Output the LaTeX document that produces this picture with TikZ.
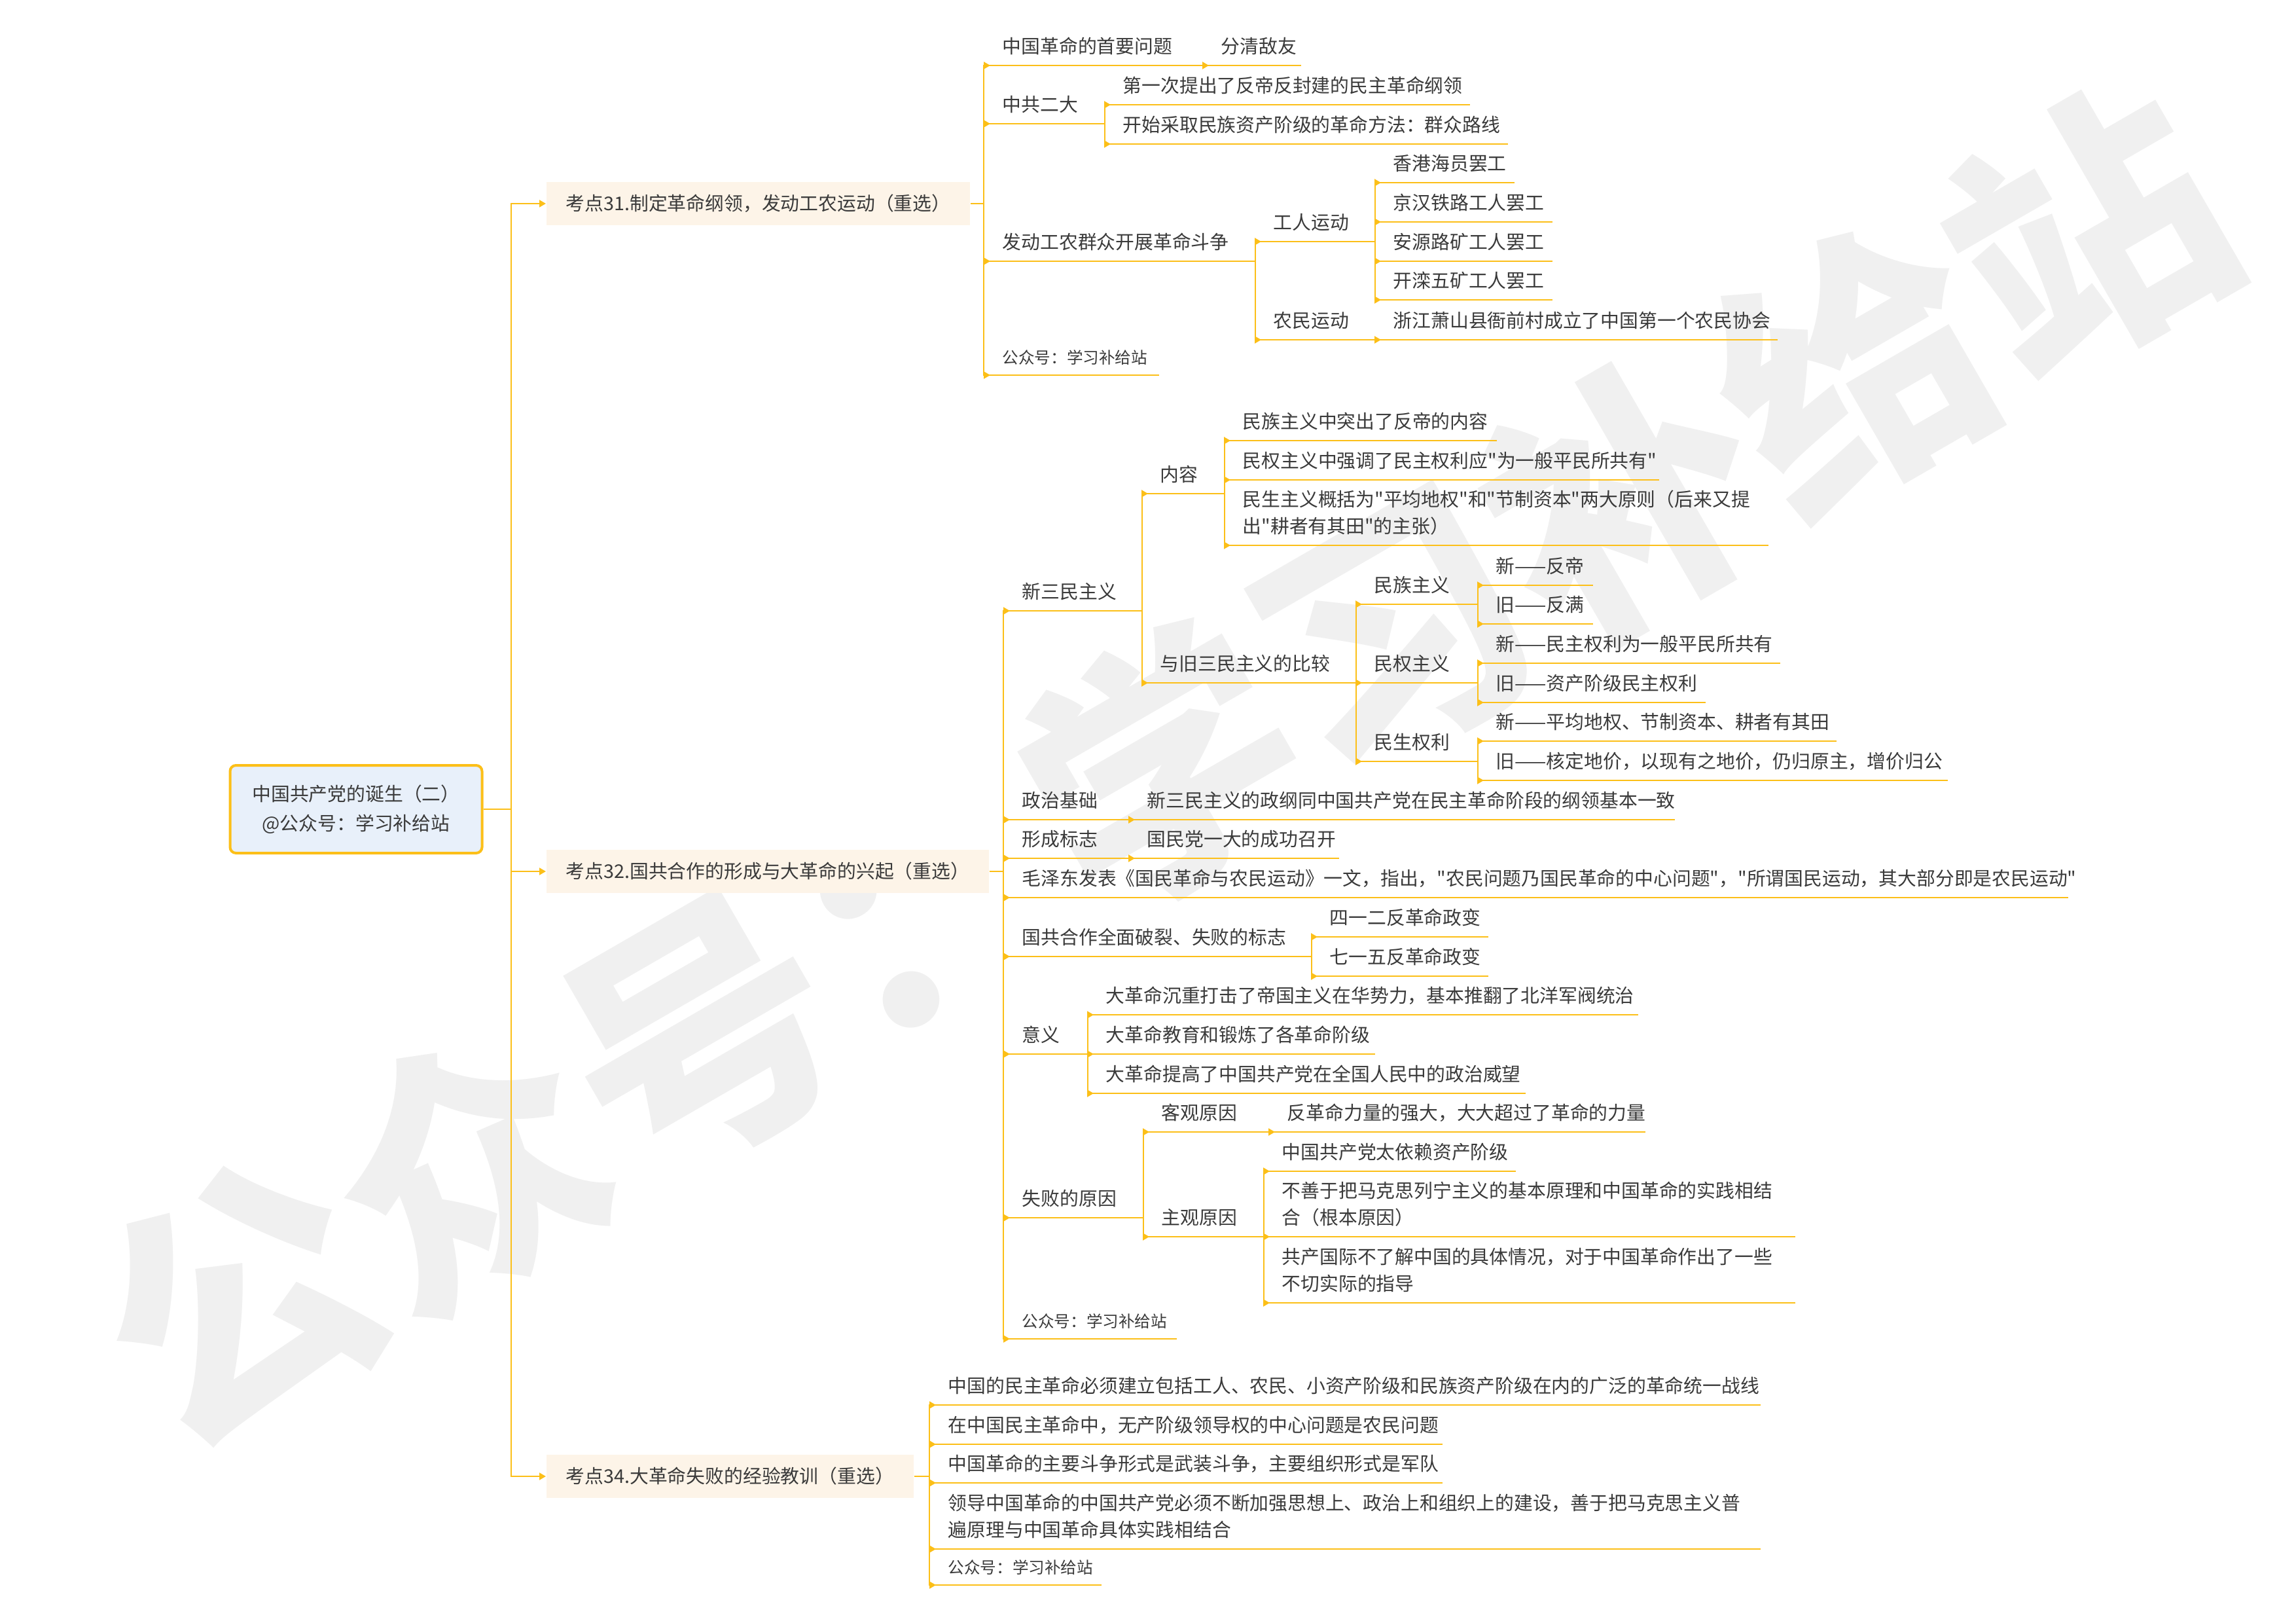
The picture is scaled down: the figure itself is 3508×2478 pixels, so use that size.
\documentclass[tikz,border=0pt]{standalone}
\usepackage{fontspec}
\setmainfont{Noto Sans CJK SC}[Ligatures=TeXOff]
\usepackage{tikz}
\usetikzlibrary{arrows.meta}
\definecolor{mmgold}{RGB}{252,191,24}
\definecolor{mmtext}{HTML}{3A3A3A}
\definecolor{mmpeach}{HTML}{FDF4E8}
\definecolor{mmblue}{HTML}{E8F0FA}
\definecolor{mmmark}{HTML}{F0F0F0}
\newcommand{\mmfont}{\fontsize{8.2pt}{11.5pt}\selectfont}
\newcommand{\mmsmall}{\fontsize{7pt}{9.8pt}\selectfont}
\tikzset{
  mm-line/.style={draw=mmgold, line width=0.22mm},
  mm-link/.style={draw=mmgold, line width=0.2mm, -{Triangle[length=1mm, width=1.1mm]}},
  mm-item/.style={anchor=south west, inner xsep=0pt, inner ysep=0.6mm, text width=#1,
    align=left, text=mmtext, font=\mmfont,
    execute at begin node={\leftskip=2.8mm\relax}, execute at end node={\strut}},
  mm-note/.style={mm-item=#1, font=\mmsmall},
  mm-topic/.style={anchor=west, fill=mmpeach, text=mmtext, font=\mmfont, inner xsep=3mm,
    minimum height=6.6mm, text height=2.5mm, text depth=0.4mm},
  mm-root/.style={draw=mmgold, line width=0.4mm, fill=mmblue, rounded corners=0.9mm,
    align=center, text=mmtext, font=\mmfont, minimum width=38.5mm, minimum height=13.4mm},
  mm-mark/.style={text=mmmark, font=\fontsize{116pt}{116pt}\selectfont\bfseries}
}

\begin{document}
\begin{tikzpicture}[x=0.1mm, y=-0.1mm]
  \path[use as bounding box] (0,0) rectangle (3508,2478);

  % Watermark
  \node[mm-mark, rotate=30] (mark) at (1775,1170) {公众号：学习补给站};

  % Root and the three topics
  \node[mm-root] (root) at (544,1236) {中国共产党的诞生（二）\\[0.5mm]@公众号：学习补给站};
  \node[mm-topic] (kd31) at (834,311) {考点31.制定革命纲领，发动工农运动（重选）};
  \node[mm-topic] (kd32) at (834,1331) {考点32.国共合作的形成与大革命的兴起（重选）};
  \node[mm-topic] (kd34) at (834,2255) {考点34.大革命失败的经验教训（重选）};
  \coordinate (hub) at (781,1236);

  % Topic 31
  \node[mm-item=33.4mm] (shouyao) at (1503,100) {中国革命的首要问题};
  \node[mm-item=15mm] (diyou) at (1837,100) {分清敌友};
  \node[mm-item=18.4mm] (erda) at (1503,189) {中共二大};
  \node[mm-item=55.8mm] (gangling) at (1687,160) {第一次提出了反帝反封建的民主革命纲领};
  \node[mm-item=61.6mm] (luxian) at (1687,220) {开始采取民族资产阶级的革命方法：群众路线};
  \node[mm-item=41.4mm] (douzheng) at (1503,399) {发动工农群众开展革命斗争};
  \node[mm-item=18.3mm] (gongren) at (1917,369) {工人运动};
  \node[mm-item=21.3mm] (haiyuan) at (2100,279) {香港海员罢工};
  \node[mm-item=27.1mm] (jinghan) at (2100,339) {京汉铁路工人罢工};
  \node[mm-item=27.1mm] (anyuan) at (2100,399) {安源路矿工人罢工};
  \node[mm-item=27.1mm] (kailuan) at (2100,458) {开滦五矿工人罢工};
  \node[mm-item=18.3mm] (nongmin) at (1917,519) {农民运动};
  \node[mm-item=61.5mm] (xiehui) at (2100,519) {浙江萧山县衙前村成立了中国第一个农民协会};
  \node[mm-note=26.7mm] (gzh31) at (1503,573) {公众号：学习补给站};

  % Topic 32
  \node[mm-item=21.1mm] (xinsanmin) at (1533,933) {新三民主义};
  \node[mm-item=12.6mm] (neirong) at (1744,754) {内容};
  \node[mm-item=41.6mm] (minzu) at (1870,673) {民族主义中突出了反帝的内容};
  \node[mm-item=66.4mm] (minquan) at (1870,733) {民权主义中强调了民主权利应"为一般平民所共有"};
  \node[mm-item=83.1mm] (minsheng) at (1870,833) {民生主义概括为"平均地权"和"节制资本"两大原则（后来又提\\出"耕者有其田"的主张）};
  \node[mm-item=32.7mm] (bijiao) at (1744,1043) {与旧三民主义的比较};
  \node[mm-item=18.6mm] (bjminzu) at (2071,923) {民族主义};
  \node[mm-item=17.6mm] (fandi) at (2257,894) {新——反帝};
  \node[mm-item=17.6mm] (fanman) at (2257,953) {旧——反满};
  \node[mm-item=18.6mm] (bjminquan) at (2071,1043) {民权主义};
  \node[mm-item=46.2mm] (pingmin) at (2257,1013) {新——民主权利为一般平民所共有};
  \node[mm-item=34.8mm] (zichan) at (2257,1073) {旧——资产阶级民主权利};
  \node[mm-item=18.6mm] (bjminsheng) at (2071,1163) {民生权利};
  \node[mm-item=54.8mm] (gengzhe) at (2257,1132) {新——平均地权、节制资本、耕者有其田};
  \node[mm-item=71.8mm] (dijia) at (2257,1192) {旧——核定地价，以现有之地价，仍归原主，增价归公};
  \node[mm-item=19.1mm] (zhengzhi) at (1533,1252) {政治基础};
  \node[mm-item=83.4mm] (zhenggang) at (1724,1252) {新三民主义的政纲同中国共产党在民主革命阶段的纲领基本一致};
  \node[mm-item=19.1mm] (biaozhi) at (1533,1311) {形成标志};
  \node[mm-item=32.1mm] (yida) at (1724,1311) {国民党一大的成功召开};
  \node[mm-item=162.6mm] (maozedong) at (1533,1371) {毛泽东发表《国民革命与农民运动》一文，指出，"农民问题乃国民革命的中心问题"，"所谓国民运动，其大部分即是农民运动"};
  \node[mm-item=47mm] (polie) at (1533,1461) {国共合作全面破裂、失败的标志};
  \node[mm-item=27mm] (siyier) at (2003,1431) {四一二反革命政变};
  \node[mm-item=27mm] (qiyiwu) at (2003,1491) {七一五反革命政变};
  \node[mm-item=12.8mm] (yiyi) at (1533,1610) {意义};
  \node[mm-item=84.1mm] (daji) at (1661,1550) {大革命沉重打击了帝国主义在华势力，基本推翻了北洋军阀统治};
  \node[mm-item=43.9mm] (duanlian) at (1661,1610) {大革命教育和锻炼了各革命阶级};
  \node[mm-item=66.9mm] (weiwang) at (1661,1670) {大革命提高了中国共产党在全国人民中的政治威望};
  \node[mm-item=21.3mm] (shibai) at (1533,1860) {失败的原因};
  \node[mm-item=19.2mm] (keguan) at (1746,1729) {客观原因};
  \node[mm-item=57.5mm] (qiangda) at (1938,1729) {反革命力量的强大，大大超过了革命的力量};
  \node[mm-item=18.4mm] (zhuguan) at (1746,1889) {主观原因};
  \node[mm-item=38.5mm] (yilai) at (1930,1789) {中国共产党太依赖资产阶级};
  \node[mm-item=81.2mm] (genben) at (1930,1889) {不善于把马克思列宁主义的基本原理和中国革命的实践相结\\合（根本原因）};
  \node[mm-item=81.2mm] (gongchan) at (1930,1990) {共产国际不了解中国的具体情况，对于中国革命作出了一些\\不切实际的指导};
  \node[mm-note=26.4mm] (gzh32) at (1533,2045) {公众号：学习补给站};

  % Topic 34
  \node[mm-item=126.9mm] (tongyi) at (1420,2146) {中国的民主革命必须建立包括工人、农民、小资产阶级和民族资产阶级在内的广泛的革命统一战线};
  \node[mm-item=78.3mm] (lingdao) at (1420,2206) {在中国民主革命中，无产阶级领导权的中心问题是农民问题};
  \node[mm-item=78.3mm] (wuzhuang) at (1420,2265) {中国革命的主要斗争形式是武装斗争，主要组织形式是军队};
  \node[mm-item=126.9mm] (jianshe) at (1420,2366) {领导中国革命的中国共产党必须不断加强思想上、政治上和组织上的建设，善于把马克思主义普\\遍原理与中国革命具体实践相结合};
  \node[mm-note=26.2mm] (gzh34) at (1420,2421) {公众号：学习补给站};

  % Underlines
  \foreach \n in {shouyao,diyou,erda,gangling,luxian,douzheng,gongren,haiyuan,jinghan,anyuan,kailuan,nongmin,xiehui,gzh31,
      xinsanmin,neirong,minzu,minquan,minsheng,bijiao,bjminzu,fandi,fanman,bjminquan,pingmin,zichan,bjminsheng,gengzhe,dijia,
      zhengzhi,zhenggang,biaozhi,yida,maozedong,polie,siyier,qiyiwu,yiyi,daji,duanlian,weiwang,
      shibai,keguan,qiangda,zhuguan,yilai,genben,gongchan,gzh32,tongyi,lingdao,wuzhuang,jianshe,gzh34}
    \draw[mm-line] (\n.south west) -- (\n.south east);

  % Root to topics
  \foreach \t in {kd31,kd32,kd34}
    \draw[mm-link] (root.east) -- (hub) |- (\t.west);

  % Topic 31 connectors
  \foreach \c in {shouyao,erda,douzheng,gzh31}
    \draw[mm-link] (kd31.east) -- (kd31.east -| \c.south west) |- ([xshift=1mm]\c.south west);
  \draw[mm-link] (shouyao.south east) |- ([xshift=1mm]diyou.south west);
  \foreach \c in {gangling,luxian}
    \draw[mm-link] (erda.south east) |- ([xshift=1mm]\c.south west);
  \foreach \c in {gongren,nongmin}
    \draw[mm-link] (douzheng.south east) |- ([xshift=1mm]\c.south west);
  \foreach \c in {haiyuan,jinghan,anyuan,kailuan}
    \draw[mm-link] (gongren.south east) |- ([xshift=1mm]\c.south west);
  \draw[mm-link] (nongmin.south east) |- ([xshift=1mm]xiehui.south west);

  % Topic 32 connectors
  \foreach \c in {xinsanmin,zhengzhi,biaozhi,maozedong,polie,yiyi,shibai,gzh32}
    \draw[mm-link] (kd32.east) -- (kd32.east -| \c.south west) |- ([xshift=1mm]\c.south west);
  \foreach \c in {neirong,bijiao}
    \draw[mm-link] (xinsanmin.south east) |- ([xshift=1mm]\c.south west);
  \foreach \c in {minzu,minquan,minsheng}
    \draw[mm-link] (neirong.south east) |- ([xshift=1mm]\c.south west);
  \foreach \c in {bjminzu,bjminquan,bjminsheng}
    \draw[mm-link] (bijiao.south east) |- ([xshift=1mm]\c.south west);
  \foreach \c in {fandi,fanman}
    \draw[mm-link] (bjminzu.south east) |- ([xshift=1mm]\c.south west);
  \foreach \c in {pingmin,zichan}
    \draw[mm-link] (bjminquan.south east) |- ([xshift=1mm]\c.south west);
  \foreach \c in {gengzhe,dijia}
    \draw[mm-link] (bjminsheng.south east) |- ([xshift=1mm]\c.south west);
  \draw[mm-link] (zhengzhi.south east) |- ([xshift=1mm]zhenggang.south west);
  \draw[mm-link] (biaozhi.south east) |- ([xshift=1mm]yida.south west);
  \foreach \c in {siyier,qiyiwu}
    \draw[mm-link] (polie.south east) |- ([xshift=1mm]\c.south west);
  \foreach \c in {daji,duanlian,weiwang}
    \draw[mm-link] (yiyi.south east) |- ([xshift=1mm]\c.south west);
  \foreach \c in {keguan,zhuguan}
    \draw[mm-link] (shibai.south east) |- ([xshift=1mm]\c.south west);
  \draw[mm-link] (keguan.south east) |- ([xshift=1mm]qiangda.south west);
  \foreach \c in {yilai,genben,gongchan}
    \draw[mm-link] (zhuguan.south east) |- ([xshift=1mm]\c.south west);

  % Topic 34 connectors
  \foreach \c in {tongyi,lingdao,wuzhuang,jianshe,gzh34}
    \draw[mm-link] (kd34.east) -- (kd34.east -| \c.south west) |- ([xshift=1mm]\c.south west);
\end{tikzpicture}
\end{document}
